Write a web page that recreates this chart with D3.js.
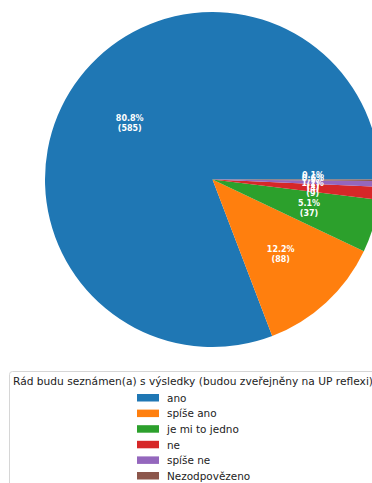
<!DOCTYPE html>
<html><head><meta charset="utf-8">
<script src="https://cdn.jsdelivr.net/npm/d3@7"></script>
<style>body{margin:0;background:#fff;overflow:hidden}svg{display:block}</style>
</head><body>
<script>
const categories = ["ano", "spíše ano", "je mi to jedno", "ne", "spíše ne", "Nezodpovězeno"];
const values = [585, 88, 37, 9, 4, 1];
const colors = ["#1f77b4", "#ff7f0e", "#2ca02c", "#d62728", "#9467bd", "#8c564b"];
const legendTitle = "Rád budu seznámen(a) s výsledky (budou zveřejněny na UP reflexi)";

const W = 372, H = 483;
const cx = 212.5, cy = 179.5, R = 167.5;
const svg = d3.select("body").append("svg").attr("width", W).attr("height", H);
const total = d3.sum(values);

// matplotlib-style: start at 3 o'clock, counterclockwise
const pie = d3.pie().sort(null).value(d => d)
  .startAngle(Math.PI / 2).endAngle(Math.PI / 2 - 2 * Math.PI);
const arcs = pie(values);
const arc = d3.arc().innerRadius(0).outerRadius(R);
const g = svg.append("g").attr("transform", `translate(${cx},${cy})`);
g.selectAll("path").data(arcs).enter().append("path")
  .attr("d", arc).attr("fill", (d, i) => colors[i]);

const labelArc = d3.arc().innerRadius(R * 0.6).outerRadius(R * 0.6);
const lab = g.selectAll("text.lab").data(arcs).enter().append("text")
  .attr("class", "lab")
  .attr("transform", d => `translate(${labelArc.centroid(d)})`)
  .attr("text-anchor", "middle")
  .attr("font-family", "DejaVu Sans")
  .attr("font-weight", "bold")
  .attr("font-size", 8)
  .attr("fill", "white");
lab.append("tspan").attr("x", 0).attr("y", -1.5)
  .text(d => (d.value / total * 100).toFixed(1) + "%");
lab.append("tspan").attr("x", 0).attr("y", 8.5)
  .text(d => "(" + d.value + ")");

// legend
const fs = 10.45;
const lg = svg.append("g");
lg.append("rect").attr("x", 9.5).attr("y", 371.5).attr("width", 420).attr("height", 130)
  .attr("rx", 3).attr("fill", "white").attr("stroke", "#d6d6d6").attr("stroke-width", 1);
lg.append("text").attr("x", 13).attr("y", 385).attr("font-family", "DejaVu Sans")
  .attr("font-size", 10.65).attr("fill", "#222").text(legendTitle);
const rowY = i => 394 + i * 15.6;
categories.forEach((c, i) => {
  lg.append("rect").attr("x", 137).attr("y", rowY(i)).attr("width", 22).attr("height", 7.5)
    .attr("fill", colors[i]);
  lg.append("text").attr("x", 167).attr("y", rowY(i) + 7.8).attr("font-family", "DejaVu Sans")
    .attr("font-size", fs).attr("fill", "#222").text(c);
});
</script>
</body></html>
